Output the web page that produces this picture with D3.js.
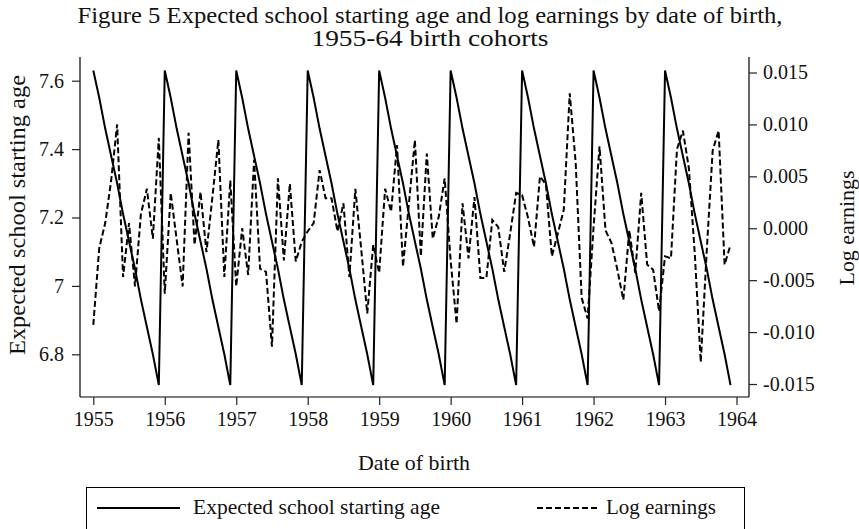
<!DOCTYPE html>
<html><head><meta charset="utf-8">
<script src="https://cdn.jsdelivr.net/npm/d3@7"></script>
<style>body{margin:0;background:#fff} svg{display:block}</style>
</head><body>
<script>
// ---- data ----
const birthYears = [1955,1956,1957,1958,1959,1960,1961,1962,1963];
const monthIndex = [0,1,2,3,4,5,6,7,8,9,10,11];
const xTickLabels = [1955,1956,1957,1958,1959,1960,1961,1962,1963,1964];
const leftTicks = [6.8,7,7.2,7.4,7.6];
const rightTicks = [-0.015,-0.010,-0.005,0.000,0.005,0.010,0.015];
// expected school starting age by month of birth (Jan..Dec), each cohort
const startingAge = [
 7.63,7.55,7.46,7.38,7.30,7.21,7.13,7.05,6.96,6.88,6.80,6.71,
 7.63,7.55,7.46,7.38,7.30,7.21,7.13,7.05,6.96,6.88,6.80,6.71,
 7.63,7.55,7.46,7.38,7.30,7.21,7.13,7.05,6.96,6.88,6.80,6.71,
 7.63,7.55,7.46,7.38,7.30,7.21,7.13,7.05,6.96,6.88,6.80,6.71,
 7.63,7.55,7.46,7.38,7.30,7.21,7.13,7.05,6.96,6.88,6.80,6.71,
 7.63,7.55,7.46,7.38,7.30,7.21,7.13,7.05,6.96,6.88,6.80,6.71,
 7.63,7.55,7.46,7.38,7.30,7.21,7.13,7.05,6.96,6.88,6.80,6.71,
 7.63,7.55,7.46,7.38,7.30,7.21,7.13,7.05,6.96,6.88,6.80,6.71,
 7.63,7.55,7.46,7.38,7.30,7.21,7.13,7.05,6.96,6.88,6.80,6.71
];
// log earnings by month of birth
const logEarnings = [
 -0.0093,-0.0019,0.0005,0.0046,0.0100,-0.0047,0.0005,-0.0056,0.0014,0.0038,-0.0010,0.0087,
 -0.0063,0.0034,-0.0011,-0.0056,0.0092,-0.0016,0.0035,-0.0023,0.0030,0.0085,-0.0047,0.0046,
 -0.0056,0.0000,-0.0045,0.0066,-0.0039,-0.0042,-0.0114,0.0048,-0.0031,0.0043,-0.0032,-0.0013,
 -0.0003,0.0005,0.0056,0.0029,0.0029,-0.0003,0.0024,-0.0047,0.0038,-0.0021,-0.0082,-0.0016,
 -0.0043,0.0038,0.0016,0.0080,-0.0037,0.0024,0.0085,-0.0027,0.0072,-0.0010,0.0011,0.0048,
 -0.0031,-0.0092,0.0024,-0.0029,0.0030,-0.0048,-0.0048,0.0008,0.0001,-0.0042,-0.0005,0.0034,
 0.0032,0.0010,-0.0018,0.0050,0.0042,-0.0027,-0.0005,0.0018,0.0130,0.0063,-0.0067,-0.0087,
 0.0001,0.0079,-0.0002,-0.0014,-0.0040,-0.0069,-0.0002,-0.0043,0.0034,-0.0035,-0.0040,-0.0080,
 -0.0027,-0.0029,0.0076,0.0094,0.0058,-0.0025,-0.0129,-0.0022,0.0075,0.0094,-0.0035,-0.0016
];
const titleLines = ["Figure 5 Expected school starting age and log earnings by date of birth,","1955-64 birth cohorts"];
const leftTitle = "Expected school starting age";
const rightTitle = "Log earnings";
const xTitle = "Date of birth";
const legendLabels = ["Expected school starting age","Log earnings"];

// ---- build rows ----
const rows = [];
birthYears.forEach((yr,i)=>monthIndex.forEach(m=>{
  const k=i*12+m;
  rows.push({t: yr + m/12, age: startingAge[k], le: logEarnings[k]});
}));

const W=859,H=529;
const FONT="'Liberation Serif','Times New Roman',serif";
const INK="#111";
const svg=d3.select("body").append("svg").attr("width",W).attr("height",H)
  .style("font-family",FONT);
svg.append("rect").attr("width",W).attr("height",H).attr("fill","#fff");

const axL=80, axR=749, axTop=57, axBot=397;
const x=d3.scaleLinear().domain([1955,1964]).range([93.3,736.5]);
const yL=d3.scaleLinear().domain([6.8,7.6]).range([354.3,80.7]);
const yR=d3.scaleLinear().domain([-0.015,0.015]).range([384,72.5]);

// frame
const frame=svg.append("g").attr("stroke","#000").attr("stroke-width",1.2).attr("fill","none");
frame.append("line").attr("x1",axL).attr("x2",axL).attr("y1",axTop).attr("y2",axBot);
frame.append("line").attr("x1",axR).attr("x2",axR).attr("y1",axTop).attr("y2",axBot);
frame.append("line").attr("x1",axL).attr("x2",axR).attr("y1",axBot).attr("y2",axBot);

function styleAxis(g){
  g.select(".domain").remove();
  g.selectAll(".tick line").attr("stroke","#222").attr("stroke-width",1.2);
  g.selectAll(".tick text").attr("fill",INK).style("font-size","20px").style("font-family",FONT);
}
svg.append("g").attr("transform",`translate(0,${axBot})`)
  .call(d3.axisBottom(x).tickValues(xTickLabels).tickFormat(d3.format("d")).tickSize(8).tickPadding(7))
  .call(styleAxis);
svg.append("g").attr("transform",`translate(${axL},0)`)
  .call(d3.axisLeft(yL).tickValues(leftTicks).tickFormat(d=>d3.format("")(d)).tickSize(8).tickPadding(8))
  .call(styleAxis);
svg.append("g").attr("transform",`translate(${axR},0)`)
  .call(d3.axisRight(yR).tickValues(rightTicks).tickFormat(d3.format(".3f")).tickSize(8).tickPadding(6))
  .call(styleAxis);
svg.selectAll(".tick text").text(function(){return d3.select(this).text().replace("\u2212","-");});

// lines
const lineAge=d3.line().x(d=>x(d.t)).y(d=>yL(d.age));
const lineLE=d3.line().x(d=>x(d.t)).y(d=>yR(d.le));
svg.append("path").datum(rows).attr("d",lineAge).attr("fill","none").attr("stroke","#000").attr("stroke-width",2);
svg.append("path").datum(rows).attr("d",lineLE).attr("fill","none").attr("stroke","#000").attr("stroke-width",2)
  .attr("stroke-dasharray","6,3");

// titles
function txt(sel, size, len){
  sel.attr("fill",INK).style("font-size",size+"px");
  if(len) sel.attr("textLength",len).attr("lengthAdjust","spacingAndGlyphs");
  return sel;
}
txt(svg.append("text").attr("x",430).attr("y",23).attr("text-anchor","middle").text(titleLines[0]),23,705);
txt(svg.append("text").attr("x",430).attr("y",46).attr("text-anchor","middle").text(titleLines[1]),23,237);
txt(svg.append("text").attr("transform",`translate(25,215) rotate(-90)`).attr("text-anchor","middle").text(leftTitle),23,280);
txt(svg.append("text").attr("transform",`translate(854,228) rotate(-90)`).attr("text-anchor","middle").text(rightTitle),22,115);
txt(svg.append("text").attr("x",414).attr("y",470).attr("text-anchor","middle").text(xTitle),21,112);

// legend
const lg=svg.append("g");
lg.append("rect").attr("x",86.5).attr("y",487.5).attr("width",658).attr("height",50)
  .attr("fill","none").attr("stroke","#000").attr("stroke-width",1);
lg.append("line").attr("x1",97).attr("x2",180).attr("y1",508).attr("y2",508).attr("stroke","#000").attr("stroke-width",2);
txt(lg.append("text").attr("x",193).attr("y",514).text(legendLabels[0]),21,247);
lg.append("line").attr("x1",537).attr("x2",598).attr("y1",508).attr("y2",508).attr("stroke","#000").attr("stroke-width",2)
  .attr("stroke-dasharray","6,3");
txt(lg.append("text").attr("x",606).attr("y",514).text(legendLabels[1]),21,110);
</script>
</body></html>
